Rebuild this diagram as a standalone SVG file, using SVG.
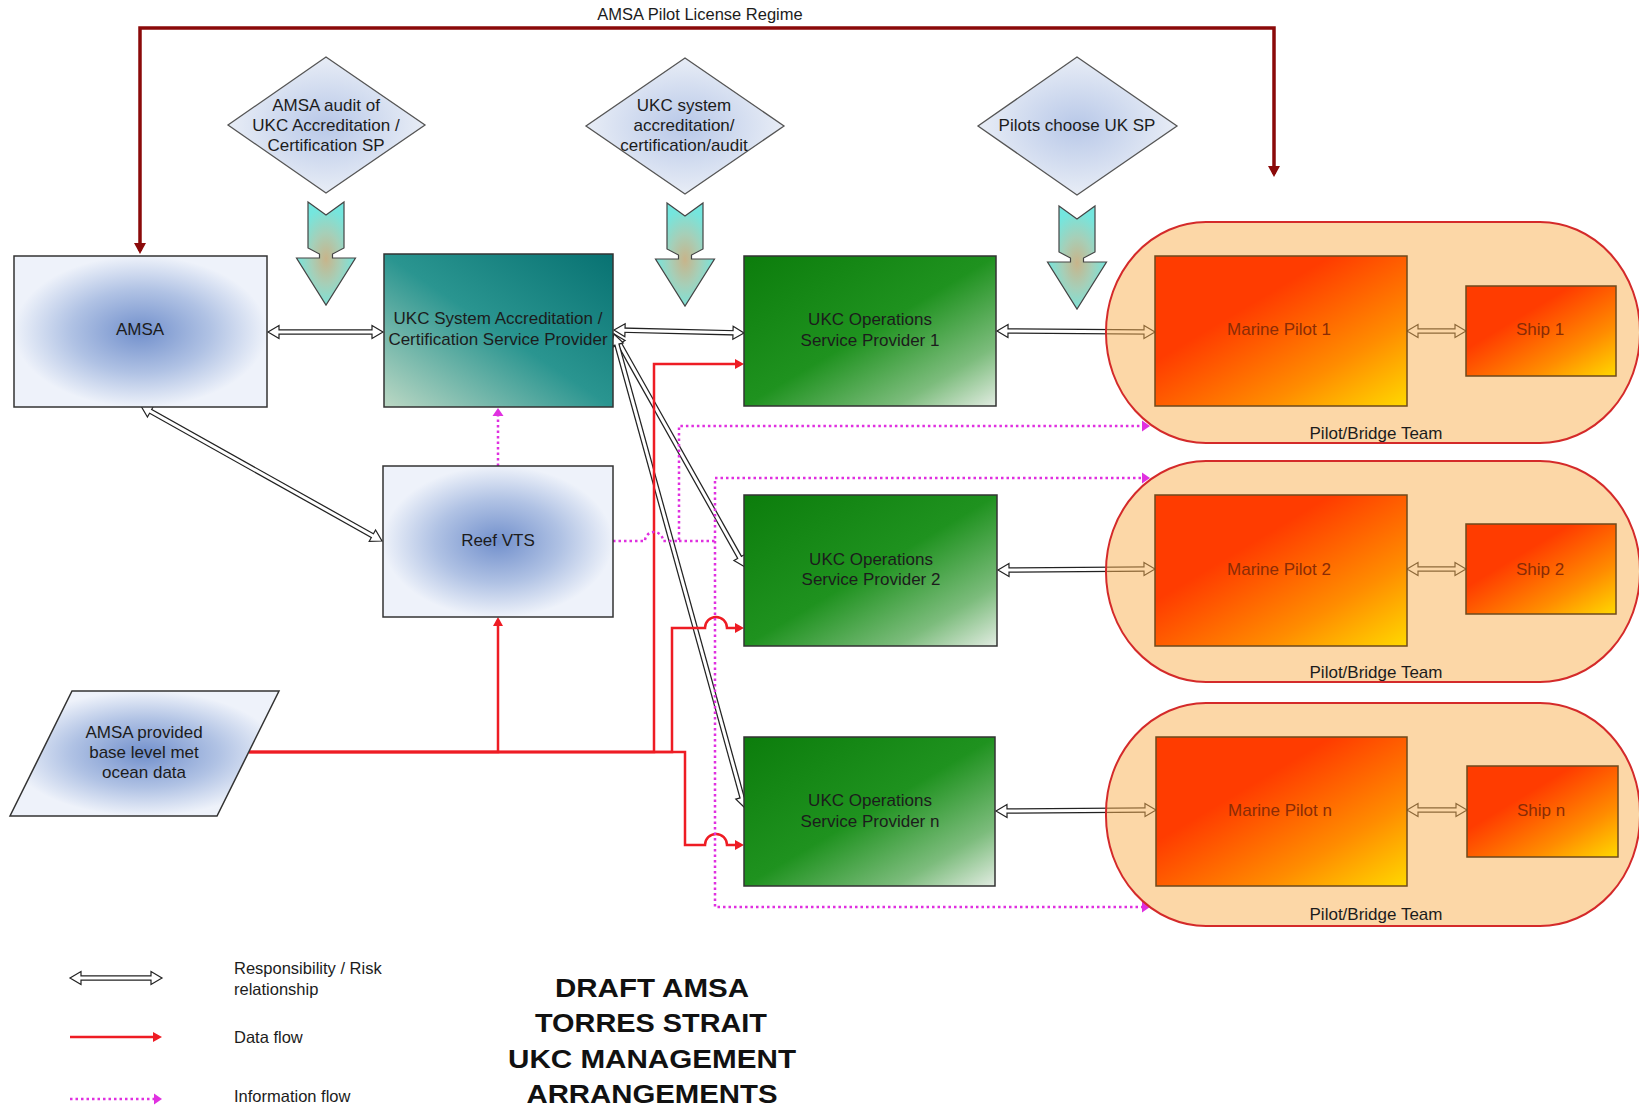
<svg xmlns="http://www.w3.org/2000/svg" width="1639" height="1109" viewBox="0 0 1639 1109">
<style>
text{font-family:"Liberation Sans",Arial,sans-serif;font-size:17px;fill:#1c1c1c;text-anchor:middle}
.box{stroke:#333;stroke-width:1.5}
.or{fill:url(#gOrange);stroke:#6e4a1c;stroke-width:1.5}
.ot{fill:#8a2c06}
.cap{fill:#f9b050;fill-opacity:0.5;stroke:#d42a2a;stroke-width:2}
.dia{fill:url(#gDia);stroke:#555;stroke-width:1.3}
.rb{fill:none;stroke:#222;stroke-width:5.5}
.rw{fill:none;stroke:#fff;stroke-width:3}
.red{fill:none;stroke:#ee1c24;stroke-width:2.5}
.mag{fill:none;stroke:#e030e0;stroke-width:2.5;stroke-dasharray:2.5 3}
.blk{fill:url(#gArrow);stroke:#444;stroke-width:1.2}
.leg{text-anchor:start}
.title{font-size:25px;font-weight:bold;fill:#111}
</style>
<defs>
<radialGradient id="gBlue" cx="50%" cy="50%" r="50%">
<stop offset="0" stop-color="#7290cc"/><stop offset="0.55" stop-color="#b0c2e4"/><stop offset="1" stop-color="#eef2fa"/>
</radialGradient>
<radialGradient id="gDia" cx="50%" cy="50%" r="50%">
<stop offset="0" stop-color="#b8c8e8"/><stop offset="1" stop-color="#e8edf6"/>
</radialGradient>
<radialGradient id="gArrow" cx="50%" cy="55%" r="50%">
<stop offset="0" stop-color="#c8b48a"/><stop offset="0.5" stop-color="#a6cfb8"/><stop offset="1" stop-color="#74e6de"/>
</radialGradient>
<linearGradient id="gTeal" x1="1" y1="0" x2="0" y2="1">
<stop offset="0" stop-color="#087272"/><stop offset="0.5" stop-color="#2a9590"/><stop offset="1" stop-color="#bcd8c4"/>
</linearGradient>
<linearGradient id="gGreen" x1="0" y1="0" x2="1" y2="1">
<stop offset="0" stop-color="#0c7d0c"/><stop offset="0.5" stop-color="#1f921f"/><stop offset="0.8" stop-color="#7cbc7c"/><stop offset="1" stop-color="#e2ece2"/>
</linearGradient>
<linearGradient id="gOrange" x1="0" y1="0" x2="1" y2="1">
<stop offset="0" stop-color="#ff3c00"/><stop offset="0.35" stop-color="#ff3c00"/><stop offset="0.72" stop-color="#ff8c00"/><stop offset="1" stop-color="#ffd800"/>
</linearGradient>
<marker id="hh" markerUnits="userSpaceOnUse" orient="auto-start-reverse" overflow="visible" markerWidth="1" markerHeight="1" refX="0" refY="0">
<path d="M-6,-6.5 L5,0 L-6,6.5 Z" fill="#fff" stroke="#222" stroke-width="1.2"/>
</marker>
<marker id="ra" markerUnits="userSpaceOnUse" orient="auto" overflow="visible" markerWidth="1" markerHeight="1" refX="0" refY="0">
<path d="M-6,-5 L3,0 L-6,5 Z" fill="#ee1c24"/>
</marker>
<marker id="ma" markerUnits="userSpaceOnUse" orient="auto" overflow="visible" markerWidth="1" markerHeight="1" refX="0" refY="0">
<path d="M-5,-5.5 L3,0 L-5,5.5 Z" fill="#e030e0"/>
</marker>
<marker id="da" markerUnits="userSpaceOnUse" orient="auto-start-reverse" overflow="visible" markerWidth="1" markerHeight="1" refX="0" refY="0">
<path d="M-8,-6 L3,0 L-8,6 Z" fill="#8b0a0a"/>
</marker>
<path id="barrow" d="M-18,202 L0,215 L18,202 L18,248 L6.5,254 L6.5,258 L29.5,258 L0,305 L-29.5,258 L-6.5,258 L-6.5,254 L-18,248 Z"/>
</defs>
<rect width="1639" height="1109" fill="#fff"/>

<g id="connectors">
<path d="M140,251 V28 H1274 V174" fill="none" stroke="#8b0a0a" stroke-width="3.5" marker-start="url(#da)" marker-end="url(#da)"/>
<text x="700" y="20" style="font-size:16.5px">AMSA Pilot License Regime</text>

<use href="#barrow" class="blk" x="326" y="0"/>
<use href="#barrow" class="blk" x="685" y="1"/>
<use href="#barrow" class="blk" x="1077" y="4"/>

<path class="rb" d="M273,332 L378,332" marker-start="url(#hh)" marker-end="url(#hh)"/>
<path class="rw" d="M277,332 L374,332"/>
<path class="rb" d="M619,330.1 L739,332.9" marker-start="url(#hh)" marker-end="url(#hh)"/>
<path class="rw" d="M623,330.2 L735,332.8"/>
<path class="rb" d="M616.45,338.36 L742.55,562.64" marker-start="url(#hh)" marker-end="url(#hh)"/>
<path class="rw" d="M618.41,341.85 L740.59,559.15"/>
<path class="rb" d="M615.33,338.82 L743.67,803.18" marker-start="url(#hh)" marker-end="url(#hh)"/>
<path class="rw" d="M616.4,342.67 L742.6,799.33"/>
<path class="rb" d="M145.36,408.44 L377.64,538.56" marker-start="url(#hh)" marker-end="url(#hh)"/>
<path class="rw" d="M148.85,410.4 L374.15,536.6"/>
<path class="rb" d="M1002,331 L1150,332" marker-start="url(#hh)" marker-end="url(#hh)"/>
<path class="rw" d="M1006,331 L1146,332"/>
<path class="rb" d="M1412,331 L1461,331" marker-start="url(#hh)" marker-end="url(#hh)"/>
<path class="rw" d="M1416,331 L1457,331"/>
<path class="rb" d="M1003,570 L1150,569" marker-start="url(#hh)" marker-end="url(#hh)"/>
<path class="rw" d="M1007,570 L1146,569"/>
<path class="rb" d="M1412,569 L1461,569" marker-start="url(#hh)" marker-end="url(#hh)"/>
<path class="rw" d="M1416,569 L1457,569"/>
<path class="rb" d="M1001,811 L1151,810" marker-start="url(#hh)" marker-end="url(#hh)"/>
<path class="rw" d="M1005,811 L1147,810"/>
<path class="rb" d="M1412,810 L1462,810" marker-start="url(#hh)" marker-end="url(#hh)"/>
<path class="rw" d="M1416,810 L1458,810"/>

<path class="red" d="M249,752 H498 V620" marker-end="url(#ra)"/>
<path class="red" d="M249,752 H654 V364 H741" marker-end="url(#ra)"/>
<path class="red" d="M249,752 H672 V628 H705 A11,11 0 0 1 727,628 H741" marker-end="url(#ra)"/>
<path class="red" d="M249,752 H685 V845 H705 A11,11 0 0 1 727,845 H741" marker-end="url(#ra)"/>

<path class="mag" d="M498,466 V411" marker-end="url(#ma)"/>
<path class="mag" d="M613,541 H645 A9,9 0 0 1 663,541 H679 V426 H1147" marker-end="url(#ma)"/>
<path class="mag" d="M679,541 H715 V478 H1147" marker-end="url(#ma)"/>
<path class="mag" d="M715,541 V907 H1147" marker-end="url(#ma)"/>
</g>

<g id="amsa">
<rect class="box" x="14" y="256" width="253" height="151" fill="url(#gBlue)"/>
<text x="140" y="335">AMSA</text>
</g>
<g id="ukc-accreditation-sp">
<rect class="box" x="384" y="254" width="229" height="153" fill="url(#gTeal)"/>
<text x="498" y="324">UKC System Accreditation /</text>
<text x="498" y="345">Certification Service Provider</text>
</g>
<g id="ukc-ops-sp1">
<rect class="box" x="744" y="256" width="252" height="150" fill="url(#gGreen)"/>
<text x="870" y="325">UKC Operations</text>
<text x="870" y="346">Service Provider 1</text>
</g>
<g id="ukc-ops-sp2">
<rect class="box" x="744" y="495" width="253" height="151" fill="url(#gGreen)"/>
<text x="871" y="565">UKC Operations</text>
<text x="871" y="585">Service Provider 2</text>
</g>
<g id="ukc-ops-spn">
<rect class="box" x="744" y="737" width="251" height="149" fill="url(#gGreen)"/>
<text x="870" y="806">UKC Operations</text>
<text x="870" y="827">Service Provider n</text>
</g>
<g id="reef-vts">
<rect class="box" x="383" y="466" width="230" height="151" fill="url(#gBlue)"/>
<text x="498" y="546">Reef VTS</text>
</g>
<g id="met-ocean-data">
<polygon class="box" points="72,691 279,691 217,816 10,816" fill="url(#gBlue)"/>
<text x="144" y="738">AMSA provided</text>
<text x="144" y="758">base level met</text>
<text x="144" y="778">ocean data</text>
</g>
<g id="amsa-audit">
<polygon class="dia" points="326,57 425,125 326,193 228,125"/>
<text x="326" y="111">AMSA audit of</text>
<text x="326" y="131">UKC Accreditation /</text>
<text x="326" y="151">Certification SP</text>
</g>
<g id="ukc-system-accreditation">
<polygon class="dia" points="685,58 784,126 685,194 586,126"/>
<text x="684" y="111">UKC system</text>
<text x="684" y="131">accreditation/</text>
<text x="684" y="151">certification/audit</text>
</g>
<g id="pilots-choose">
<polygon class="dia" points="1077,57 1177,126 1077,195 978,126"/>
<text x="1077" y="131">Pilots choose UK SP</text>
</g>

<g id="team-1">
<rect class="cap" x="1106" y="222" width="534" height="221" rx="100" ry="110"/>
<text x="1376" y="439">Pilot/Bridge Team</text>
</g>
<g id="team-2">
<rect class="cap" x="1106" y="461" width="534" height="221" rx="100" ry="110"/>
<text x="1376" y="678">Pilot/Bridge Team</text>
</g>
<g id="team-n">
<rect class="cap" x="1106" y="703" width="534" height="223" rx="100" ry="110"/>
<text x="1376" y="920">Pilot/Bridge Team</text>
</g>
<g id="marine-pilot-1">
<rect class="or" x="1155" y="256" width="252" height="150"/>
<text class="ot" x="1279" y="335">Marine Pilot 1</text>
</g>
<g id="ship-1">
<rect class="or" x="1466" y="286" width="150" height="90"/>
<text class="ot" x="1540" y="335">Ship 1</text>
</g>
<g id="marine-pilot-2">
<rect class="or" x="1155" y="495" width="252" height="151"/>
<text class="ot" x="1279" y="575">Marine Pilot 2</text>
</g>
<g id="ship-2">
<rect class="or" x="1466" y="524" width="150" height="90"/>
<text class="ot" x="1540" y="575">Ship 2</text>
</g>
<g id="marine-pilot-n">
<rect class="or" x="1156" y="737" width="251" height="149"/>
<text class="ot" x="1280" y="816">Marine Pilot n</text>
</g>
<g id="ship-n">
<rect class="or" x="1467" y="766" width="151" height="91"/>
<text class="ot" x="1541" y="816">Ship n</text>
</g>

<g id="legend">
<path class="rb" d="M75,978 L157,978" marker-start="url(#hh)" marker-end="url(#hh)"/>
<path class="rw" d="M79,978 L153,978"/>
<text class="leg" x="234" y="974" style="font-size:16.5px">Responsibility / Risk</text>
<text class="leg" x="234" y="995" style="font-size:16.5px">relationship</text>
<path class="red" d="M70,1037 H159" marker-end="url(#ra)"/>
<text class="leg" x="234" y="1043" style="font-size:16.5px">Data flow</text>
<path class="mag" d="M70,1099 H159" marker-end="url(#ma)"/>
<text class="leg" x="234" y="1102" style="font-size:16.5px">Information flow</text>
</g>

<g id="title">
<text class="title" x="652" y="997" textLength="194" lengthAdjust="spacingAndGlyphs">DRAFT AMSA</text>
<text class="title" x="651" y="1032" textLength="232" lengthAdjust="spacingAndGlyphs">TORRES STRAIT</text>
<text class="title" x="652" y="1068" textLength="288" lengthAdjust="spacingAndGlyphs">UKC MANAGEMENT</text>
<text class="title" x="652" y="1103" textLength="251" lengthAdjust="spacingAndGlyphs">ARRANGEMENTS</text>
</g>
</svg>
